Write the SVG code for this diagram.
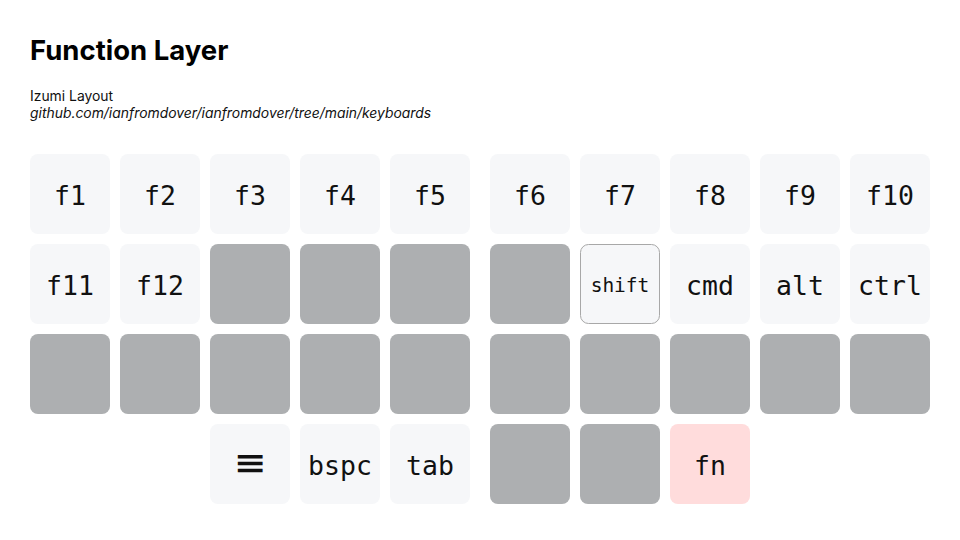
<svg xmlns="http://www.w3.org/2000/svg" width="960" height="540" viewBox="0 0 960 540">
<style>
.k{fill:#f6f7f9}
.g{fill:#adafb1}
.fn{fill:#ffdcdc}
.sh{fill:#f6f7f9;stroke:#a8a8a8;stroke-width:1}
.t{font-family:"DejaVu Sans Mono",monospace;font-size:26.5px;fill:#111;text-anchor:middle;dominant-baseline:central}
.ts{font-size:19.5px}
.h{font-family:Inter,"Liberation Sans",sans-serif}
</style>
<rect width="960" height="540" fill="#ffffff"/>
<text class="h" x="30" y="60" font-size="27.5" font-weight="700" fill="#000">Function Layer</text>
<text class="h" x="30" y="101" font-size="13.9" fill="#111">Izumi Layout</text>
<text class="h" x="30" y="118" font-size="13.9" font-style="italic" fill="#111">github.com/ianfromdover/ianfromdover/tree/main/keyboards</text>
<g id="connectors"></g>
<g id="row1">
<g id="k-f1"><rect class="k" x="30" y="154" width="80" height="80" rx="8"/><text class="t" x="70" y="195">f1</text></g>
<g id="k-f2"><rect class="k" x="120" y="154" width="80" height="80" rx="8"/><text class="t" x="160" y="195">f2</text></g>
<g id="k-f3"><rect class="k" x="210" y="154" width="80" height="80" rx="8"/><text class="t" x="250" y="195">f3</text></g>
<g id="k-f4"><rect class="k" x="300" y="154" width="80" height="80" rx="8"/><text class="t" x="340" y="195">f4</text></g>
<g id="k-f5"><rect class="k" x="390" y="154" width="80" height="80" rx="8"/><text class="t" x="430" y="195">f5</text></g>
<g id="k-f6"><rect class="k" x="490" y="154" width="80" height="80" rx="8"/><text class="t" x="530" y="195">f6</text></g>
<g id="k-f7"><rect class="k" x="580" y="154" width="80" height="80" rx="8"/><text class="t" x="620" y="195">f7</text></g>
<g id="k-f8"><rect class="k" x="670" y="154" width="80" height="80" rx="8"/><text class="t" x="710" y="195">f8</text></g>
<g id="k-f9"><rect class="k" x="760" y="154" width="80" height="80" rx="8"/><text class="t" x="800" y="195">f9</text></g>
<g id="k-f10"><rect class="k" x="850" y="154" width="80" height="80" rx="8"/><text class="t" x="890" y="195">f10</text></g>
</g>
<g id="row2">
<g id="k-f11"><rect class="k" x="30" y="244" width="80" height="80" rx="8"/><text class="t" x="70" y="285">f11</text></g>
<g id="k-f12"><rect class="k" x="120" y="244" width="80" height="80" rx="8"/><text class="t" x="160" y="285">f12</text></g>
<g id="k-r2c3"><rect class="g" x="210" y="244" width="80" height="80" rx="8"/></g>
<g id="k-r2c4"><rect class="g" x="300" y="244" width="80" height="80" rx="8"/></g>
<g id="k-r2c5"><rect class="g" x="390" y="244" width="80" height="80" rx="8"/></g>
<g id="k-r2c6"><rect class="g" x="490" y="244" width="80" height="80" rx="8"/></g>
<g id="k-shift"><rect class="sh" x="580.5" y="244.5" width="79" height="79" rx="8"/><text class="t ts" x="620" y="285">shift</text></g>
<g id="k-cmd"><rect class="k" x="670" y="244" width="80" height="80" rx="8"/><text class="t" x="710" y="285">cmd</text></g>
<g id="k-alt"><rect class="k" x="760" y="244" width="80" height="80" rx="8"/><text class="t" x="800" y="285">alt</text></g>
<g id="k-ctrl"><rect class="k" x="850" y="244" width="80" height="80" rx="8"/><text class="t" x="890" y="285">ctrl</text></g>
</g>
<g id="row3">
<g id="k-r3c1"><rect class="g" x="30" y="334" width="80" height="80" rx="8"/></g>
<g id="k-r3c2"><rect class="g" x="120" y="334" width="80" height="80" rx="8"/></g>
<g id="k-r3c3"><rect class="g" x="210" y="334" width="80" height="80" rx="8"/></g>
<g id="k-r3c4"><rect class="g" x="300" y="334" width="80" height="80" rx="8"/></g>
<g id="k-r3c5"><rect class="g" x="390" y="334" width="80" height="80" rx="8"/></g>
<g id="k-r3c6"><rect class="g" x="490" y="334" width="80" height="80" rx="8"/></g>
<g id="k-r3c7"><rect class="g" x="580" y="334" width="80" height="80" rx="8"/></g>
<g id="k-r3c8"><rect class="g" x="670" y="334" width="80" height="80" rx="8"/></g>
<g id="k-r3c9"><rect class="g" x="760" y="334" width="80" height="80" rx="8"/></g>
<g id="k-r3c10"><rect class="g" x="850" y="334" width="80" height="80" rx="8"/></g>
</g>
<g id="row4">
<g id="k-menu"><rect class="k" x="210" y="424" width="80" height="80" rx="8"/><text class="t" transform="translate(250 463) scale(1.6 1)" x="0" y="0" style="font-size:30px;font-weight:700">≡</text></g>
<g id="k-bspc"><rect class="k" x="300" y="424" width="80" height="80" rx="8"/><text class="t" x="340" y="465">bspc</text></g>
<g id="k-tab"><rect class="k" x="390" y="424" width="80" height="80" rx="8"/><text class="t" x="430" y="465">tab</text></g>
<g id="k-r4c6"><rect class="g" x="490" y="424" width="80" height="80" rx="8"/></g>
<g id="k-r4c7"><rect class="g" x="580" y="424" width="80" height="80" rx="8"/></g>
<g id="k-fn"><rect class="fn" x="670" y="424" width="80" height="80" rx="8"/><text class="t" x="710" y="465">fn</text></g>
</g>
</svg>
